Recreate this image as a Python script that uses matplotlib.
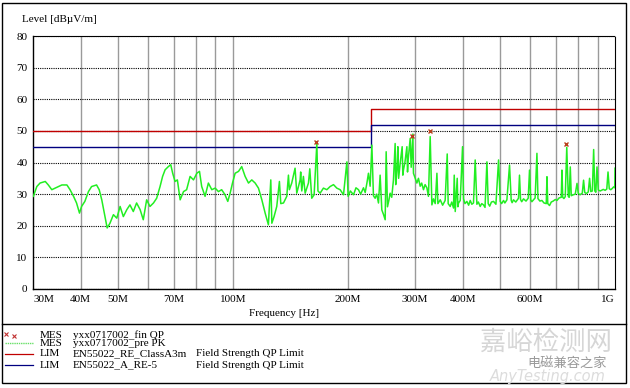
import matplotlib
matplotlib.use("Agg")
import matplotlib.pyplot as plt
from matplotlib.lines import Line2D
from matplotlib.patches import Rectangle

# peak scan (MHz, dBuV/m)
freq_pk = [
    30.06, 30.7, 31.3, 32.3, 32.9, 33.6, 34.3, 35.0, 35.7, 36.8, 37.5, 38.3, 39.0, 39.7,
    40.2, 41.0, 41.9, 42.7, 44.0, 44.7, 45.4, 46.3, 46.9, 47.7, 48.7, 49.7, 50.7, 51.7,
    52.8, 53.8, 54.9, 56.0, 57.2, 58.3, 59.5, 60.7, 62.0, 63.2, 64.5, 65.5, 66.5, 67.8,
    68.8, 69.6, 70.6, 71.6, 72.8, 74.3, 75.7, 77.3, 78.9, 80.5, 81.8, 82.9, 84.6, 86.3,
    88.1, 89.9, 91.7, 93.5, 95.4, 97.0, 98.4, 99.8, 101.4, 103.5, 105.5, 107.7, 109.9,
    112.1, 114.4, 116.7, 119.1, 121.5, 123.9, 125.7, 126.5, 128.2, 130.3, 132.4, 133.5,
    135.7, 138.4, 139.8, 140.6, 142.6, 145.5, 147.0, 150.0, 150.5, 151.5, 153.0, 154.6,
    157.7, 159.0, 160.9, 163.2, 165.9, 167.0, 169.2,
    172.6, 176.2, 179.7, 183.4, 187.1, 190.9, 194.8, 198.8, 200.3, 203.0, 206.9, 210.0,
    213.2, 216.0, 219.7, 222.0, 224.3, 226.4, 228.7, 231.1, 233.3, 235.7, 238.0, 240.5,
    242.9, 245.4, 248.0, 250.4, 251.9, 253.9, 256.0, 258.0, 260.5, 263.2, 265.9, 266.8,
    268.7, 270.3, 271.5, 274.1, 277.4, 278.5, 279.6, 282.0, 285.4, 286.5, 287.6, 291.1,
    292.9, 295.9, 296.9, 300.0, 303.1, 306.0, 309.2, 312.0, 315.4, 318.5, 321.9, 325.0,
    328.4, 331.8, 335.0, 338.5, 342.0, 344.0, 348.9, 354.0, 359.4, 363.9, 366.0, 370.5,
    374.0, 378.0, 379.6, 381.9, 386.5, 388.0, 389.6, 393.6, 399.1, 401.5, 405.0, 409.7,
    414.0, 418.0, 422.0, 426.3, 430.7, 435.1, 439.0, 443.9, 448.0, 452.8, 457.0, 462.2,
    465.8, 470.0, 475.0, 481.0, 488.0, 495.8, 500.8, 505.0, 510.9, 515.0, 521.4, 529.7,
    535.1, 538.0, 542.5, 550.0, 559.1, 562.5, 566.0, 570.0, 576.3, 585.0, 592.8, 597.5,
    601.9, 606.0, 612.1, 618.0, 624.8, 628.6, 636.0, 643.8, 652.0, 660.9, 663.7, 666.9,
    674.0, 681.1, 689.0, 697.7, 705.0, 714.0, 723.4, 726.4, 729.9, 735.0, 741.0, 747.8,
    754.6, 759.0, 763.8, 768.4, 778.0, 787.1, 795.4, 801.6, 810.0, 821.1, 827.5, 833.4,
    842.0, 851.3, 858.0, 864.2, 872.5, 879.3, 885.4, 891.0, 897.1, 904.2, 915.0, 931.8,
    942.0, 951.7, 958.8, 966.1, 975.0, 983.7, 992.0, 998.7, 1000.0,
]
level_pk = [
    29.3, 32.4, 33.5, 34.0, 32.9, 31.4, 31.9, 32.4, 32.9, 32.9, 31.4, 29.3, 27.2, 24.0,
    26.1, 27.7, 30.8, 32.4, 32.9, 31.4, 28.2, 22.9, 19.3, 20.8, 23.5, 22.4, 26.1, 22.9,
    25.1, 26.6, 24.5, 27.2, 25.1, 21.9, 28.2, 26.1, 27.2, 28.7, 32.4, 35.6, 37.7, 38.7,
    39.3, 36.6, 34.0, 34.5, 28.2, 30.8, 31.4, 35.6, 34.5, 36.6, 37.2, 32.4, 29.3, 33.5,
    31.4, 31.9, 30.8, 31.4, 29.8, 27.7, 30.3, 33.5, 36.6, 37.2, 38.7, 35.6, 33.5,
    34.5, 33.5, 31.9, 28.2, 24.0, 20.3, 34.5, 20.8, 22.9, 26.1, 34.0, 27.0,
    27.2, 29.3, 36.0, 31.4, 33.5, 38.2, 30.3, 34.5, 37.0, 31.0, 35.6, 30.3,
    33.5, 38.0, 28.7, 29.8, 46.0, 31.0, 30.3,
    31.9, 31.4, 32.4, 33.0, 31.9, 31.4, 29.8, 40.2, 29.3, 31.0, 29.8, 32.0,
    31.4, 30.0, 32.0, 30.5, 33.5, 36.6, 32.5, 45.5, 29.5, 28.7, 30.0, 27.2,
    36.0, 25.0, 23.5, 21.9, 43.4, 26.0, 28.0, 30.3, 29.0, 34.5, 46.0, 33.0,
    37.7, 45.0, 35.0, 39.8, 45.0, 36.0, 37.7, 40.0, 45.0, 37.0, 40.8, 47.6,
    38.5, 49.0, 36.6, 35.0, 33.5, 35.0, 32.5, 33.5, 31.4, 33.0, 32.0, 29.3,
    48.2, 26.6, 28.5, 27.0, 36.6, 27.0, 28.2, 26.5, 28.0, 42.7, 27.0, 26.1,
    27.5, 25.6, 36.0, 24.5, 35.0, 26.0, 27.2, 28.0, 45.0, 28.5, 27.0, 27.7,
    26.5, 28.0, 26.8, 27.2, 40.8, 26.8, 27.5, 26.1, 27.0, 26.6, 25.8, 40.2,
    27.0, 26.2, 27.5, 27.7, 26.8, 40.8, 27.7, 27.0, 28.0, 27.2, 28.2, 39.2,
    28.0, 27.3, 28.2, 27.5, 28.7, 36.0, 28.3, 27.6, 28.5, 27.8, 28.7, 37.6,
    28.2, 27.6, 28.2, 28.8, 42.9, 28.6, 27.8, 28.0, 27.2, 27.0, 35.5, 27.0,
    26.4, 27.5, 27.8, 28.3, 28.0, 28.8, 29.0, 37.6, 29.0, 28.6, 29.2, 44.8,
    29.3, 29.0, 38.6, 29.5, 29.8, 30.0, 33.4, 30.2, 29.8, 30.3, 34.4, 30.5,
    30.2, 30.7, 35.0, 30.8, 31.0, 44.1, 31.0, 30.6, 38.6, 31.3, 31.0, 31.5,
    31.2, 31.6, 37.0, 31.7, 31.4, 31.8, 32.3, 32.0, 38.2,
]

# final QP measurements
freq_qp = [165.0, 295.0, 328.0, 744.0]
level_qp = [46.6, 48.4, 50.1, 45.9]

# limit lines (step at 230 MHz)
freq_lim = [30, 230, 230, 1000]
lim_classA = [50, 50, 57, 57]
lim_re5 = [45, 45, 52, 52]

xtick_vals = [30, 40, 50, 70, 100, 200, 300, 400, 600, 1000]
xtick_labels = ["30M", "40M", "50M", "70M", "100M", "200M", "300M", "400M", "600M", "1G"]
xgrid_vals = [40, 50, 60, 70, 80, 90, 100, 200, 300, 400, 500, 600, 700, 800, 900]

W, H = 630, 388
SERIF = "Liberation Serif"
plt.rcParams['font.family'] = [SERIF, 'DejaVu Sans']


def fx(x):
    return x / W


def fy(y):
    return 1 - y / H


fig = plt.figure(figsize=(6.3, 3.88), dpi=100)
ax = fig.add_axes([fx(33), fy(289), (615 - 33) / W, (289 - 36) / H])

ax.plot(freq_lim, lim_classA, color="#c00000", lw=1.0, zorder=3)
ax.plot(freq_lim, lim_re5, color="#000080", lw=1.0, zorder=3)
ax.plot(freq_pk, level_pk, color="#22ee22", lw=1.1, zorder=4)
ax.plot(freq_qp, level_qp, ls="none", marker="x", ms=3.5, mew=1.0,
        color="#b8401c", zorder=5)

ax.set_xscale("log")
ax.set_xlim(30, 1000)
ax.set_ylim(0, 80)
ax.set_xticks(xtick_vals)
ax.set_xticklabels(xtick_labels)
ax.set_xticks([], minor=True)
ax.set_yticks(range(0, 81, 10))
ax.tick_params(axis="both", which="both", length=0, labelsize=8, pad=4)
labs = ax.get_xticklabels()
labs[0].set_horizontalalignment("left")
labs[-1].set_horizontalalignment("right")

# vertical grid (gray, solid) and dotted level grid
for g in xgrid_vals:
    ax.axvline(g, color="#9a9a9a", lw=1.0, zorder=1)
ax.grid(True, which="major", axis="y", color="black", lw=0.8, ls=(0, (1, 1)))

for s in ["left", "bottom"]:
    ax.spines[s].set_linewidth(1.0)
for s in ["top", "right"]:
    ax.spines[s].set_linestyle((0, (1, 1)))
    ax.spines[s].set_linewidth(0.8)

# axis titles
fig.text(fx(22), fy(20), "Level [dBµV/m]", fontsize=8, va="center", ha="left")
fig.text(fx(284), fy(313), "Frequency [Hz]", fontsize=8, va="center", ha="center")

# frame and divider
fig.add_artist(Rectangle((fx(2), fy(383)), (626 - 2) / W, (383 - 3) / H,
                         transform=fig.transFigure, fill=False, lw=1.0, ec="black"))
fig.add_artist(Line2D([fx(2), fx(626)], [fy(324), fy(324)], color="black", lw=1.0))

# legend block
rows_y = [335, 343, 354, 365]
fig.add_artist(Line2D([fx(6)], [fy(334)], marker="x", ms=2.8, mew=0.8,
                      color="#c03030", ls="none"))
fig.add_artist(Line2D([fx(14)], [fy(335.5)], marker="x", ms=2.8, mew=0.8,
                      color="#c03030", ls="none"))
fig.add_artist(Line2D([fx(5), fx(33)], [fy(rows_y[1])] * 2, color="#66e066", lw=1.0,
                      ls=(0, (1, 0.6))))
fig.add_artist(Line2D([fx(5), fx(33)], [fy(rows_y[2])] * 2, color="#c00000", lw=0.9))
fig.add_artist(Line2D([fx(5), fx(33)], [fy(rows_y[3])] * 2, color="#000080", lw=0.9))

kinds = ["MES", "MES", "LIM", "LIM"]
names = ["yxx0717002_fin QP", "yxx0717002_pre PK", "EN55022_RE_ClassA3m", "EN55022_A_RE-5"]
descs = ["", "", "Field Strength QP Limit", "Field Strength QP Limit"]
for y, k, n, d in zip(rows_y, kinds, names, descs):
    fig.text(fx(40), fy(y), k, fontsize=8, va="center", ha="left")
    fig.text(fx(73), fy(y), n, fontsize=8, va="center", ha="left")
    if d:
        fig.text(fx(196), fy(y), d, fontsize=8, va="center", ha="left")

# watermark
fig.text(fx(546), fy(342), "嘉峪检测网", fontsize=19, color="#d6d6d6", ha="center",
         va="center", family=["Noto Sans CJK SC", "DejaVu Sans"])
fig.text(fx(567), fy(363), "电磁兼容之家", fontsize=9.5, color="#9a9a9a", ha="center",
         va="center", family=["Noto Sans CJK SC", "DejaVu Sans"])
fig.text(fx(548), fy(376), "AnyTesting.com", fontsize=10.5, color="#dcdcdc", ha="center",
         va="center", style="italic", family=["DejaVu Sans"])

fig.savefig("out.png", dpi=100)
